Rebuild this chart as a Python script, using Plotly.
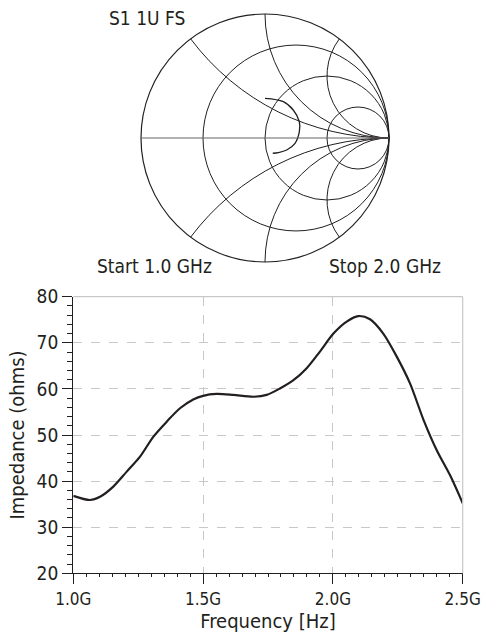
import plotly.graph_objects as go

# S11 trace on the Smith chart, normalised impedance (r + jx)
s11_real = [0.814, 1.099, 1.386, 1.678, 1.753, 1.630, 1.391, 1.204, 1.098]
s11_imag = [0.581, 0.722, 0.698, 0.485, 0.194, -0.149, -0.281, -0.291, -0.275]

# impedance vs frequency (GHz, ohms)
freq = [1.0, 1.064, 1.103, 1.154, 1.205, 1.257, 1.308, 1.36, 1.411, 1.462, 1.50,
        1.552, 1.616, 1.694, 1.745, 1.796, 1.848, 1.899, 1.95, 2.002, 2.053,
        2.098, 2.143, 2.194, 2.246, 2.297, 2.349, 2.40, 2.451, 2.5]
impedance = [36.8, 35.9, 36.6, 38.8, 42.0, 45.3, 49.6, 52.9, 55.8, 57.7, 58.5,
             58.9, 58.7, 58.3, 58.7, 60.1, 61.9, 64.5, 68.1, 72.0, 74.6,
             75.8, 75.1, 72.0, 67.0, 61.2, 53.3, 46.7, 41.3, 35.2]

r_grid = [1/3, 1, 3]
x_grid = [-2, -1, -0.5, 0.5, 1, 2]
freq_ticks = [1.0, 1.5, 2.0, 2.5]
freq_labels = ['1.0G', '1.5G', '2.0G', '2.5G']

W, H = 482, 634
FONT = "DejaVu Sans Condensed, Liberation Sans Narrow, Roboto, sans-serif"
INK = "#231f20"


def px(x):
    return x / W


def py(y):
    return 1 - y / H


fig = go.Figure()

fig.add_trace(go.Scattersmith(real=s11_real, imag=s11_imag, mode='lines',
                              line=dict(color=INK, width=1.3, shape='spline'),
                              subplot='smith', showlegend=False))

fig.add_trace(go.Scatter(x=freq, y=impedance, mode='lines',
                         line=dict(color=INK, width=2.2, shape='spline', smoothing=0.8),
                         showlegend=False))

# smith circle: centre (265, 138) px, radius 124 px
cx, cy, R = 265, 138, 124
fig.update_layout(
    smith=dict(
        domain=dict(x=[px(cx - R), px(cx + R)], y=[py(cy + R), py(cy - R)]),
        bgcolor='white',
        realaxis=dict(tickvals=r_grid, showgrid=True, gridcolor=INK, gridwidth=1,
                      showline=True, linecolor='#666', linewidth=1.2,
                      showticklabels=False, ticks=''),
        imaginaryaxis=dict(tickvals=x_grid, showgrid=True, gridcolor=INK, gridwidth=1,
                           showline=True, linecolor=INK, linewidth=1.2,
                           showticklabels=False, ticks=''),
    )
)

# impedance plot
xdom = [px(73.3), px(462.7)]
fig.update_layout(
    xaxis=dict(domain=xdom, range=[1.0, 2.5], automargin=False,
               tickvals=freq_ticks, ticktext=freq_labels, ticklabeloverflow='allow',
               showgrid=True, gridcolor='#c8c8c8', griddash='dash', gridwidth=1,
               showline=True, linecolor=INK, linewidth=1.3, zeroline=False,
               ticks='outside', ticklen=10, tickcolor=INK, tickwidth=1.3,
               minor=dict(dtick=0.05, ticks='outside', ticklen=3, tickcolor=INK, showgrid=False),
               title=dict(text='Frequency [Hz]', standoff=2, font=dict(size=20)),
               tickfont=dict(size=17)),
    # medium ticks every 0.25 GHz
    xaxis2=dict(domain=xdom, range=[1.0, 2.5], overlaying='x', anchor='y', side='bottom',
                automargin=False, dtick=0.25, tick0=1.0, showticklabels=False,
                showgrid=False, showline=False, zeroline=False,
                ticks='outside', ticklen=6, tickcolor=INK, tickwidth=1.2),
    yaxis=dict(domain=[py(573.3), py(296.7)], range=[20, 80], automargin=False,
               dtick=10, showgrid=True, gridcolor='#c8c8c8', griddash='dash', gridwidth=1,
               showline=True, linecolor=INK, linewidth=1.3, zeroline=False,
               ticks='outside', ticklen=10, tickcolor=INK, tickwidth=1.3,
               minor=dict(dtick=2, ticks='outside', ticklen=5, tickcolor=INK, showgrid=False),
               title=dict(text='Impedance (ohms)', standoff=6, font=dict(size=20)),
               tickfont=dict(size=19)),
)

# light frame on the top and right of the plot
fig.add_shape(type='line', xref='x domain', yref='y domain', x0=0, x1=1, y0=1, y1=1,
              line=dict(color='#c8c8c8', width=1.2))
fig.add_shape(type='line', xref='x domain', yref='y domain', x0=1, x1=1, y0=0, y1=1,
              line=dict(color='#c8c8c8', width=1.2))

for txt, x, y, anc in [('S1 1U FS', 107, 18, 'left'),
                       ('Start 1.0 GHz', 95, 266, 'left'),
                       ('Stop 2.0 GHz', 443, 266, 'right')]:
    fig.add_annotation(text=txt, x=px(x), y=py(y), xref='paper', yref='paper',
                       xanchor=anc, yanchor='middle', showarrow=False,
                       font=dict(size=19, color=INK))

fig.update_layout(width=W, height=H, margin=dict(l=0, r=0, t=0, b=0),
                  paper_bgcolor='white', plot_bgcolor='white',
                  font=dict(family=FONT, color=INK, size=18), showlegend=False)

# drop the page's default body margin so the figure fills the window exactly
fig.write_html("out.html", config={'displayModeBar': False},
               post_script="document.body.style.margin='0';document.body.style.overflow='hidden';")
